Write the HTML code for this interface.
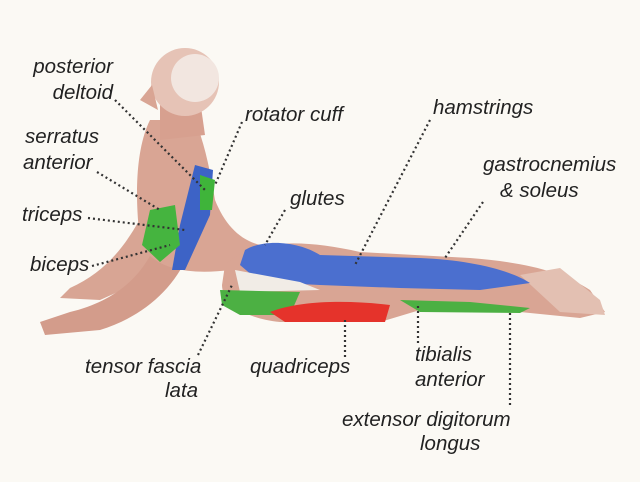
<!DOCTYPE html>
<html><head><style>
html,body{margin:0;padding:0;background:#fbf9f4;}
svg{display:block}
text{font-family:"Liberation Sans","DejaVu Sans",sans-serif;font-style:italic;font-size:20.5px;fill:#222;}
</style></head><body>
<svg width="640" height="482" viewBox="0 0 640 482">
<rect width="640" height="482" fill="#fbf9f4"/>
<!-- arms -->
<path d="M150,200 C130,240 110,270 70,288 L60,298 L100,300 L140,282 C165,262 178,235 180,215 Z" fill="#d8a594"/>
<path d="M160,230 C150,270 120,300 70,312 L40,322 L45,335 L100,330 C140,318 175,290 190,250 Z" fill="#d39c8b"/>
<!-- torso -->
<path d="M150,120 C135,150 135,200 140,240 C150,270 190,275 230,270 L260,245 C240,240 225,225 215,200 C210,170 205,145 195,120 Z" fill="#d9a594"/>
<!-- neck & head -->
<path d="M160,100 L200,100 L205,135 L160,140 Z" fill="#d7a08f"/>
<circle cx="185" cy="82" r="34" fill="#e6c3b6"/>
<circle cx="195" cy="78" r="24" fill="#f2e6e0"/>
<path d="M152,85 L140,100 L158,110 Z" fill="#d9a594"/>
<!-- legs -->
<path d="M225,265 C250,240 300,238 360,252 L470,258 C520,262 560,270 590,290 L605,312 L580,318 L520,312 L420,310 L380,322 L280,322 C240,318 222,300 222,285 Z" fill="#d9a594"/>
<path d="M520,275 L560,268 L600,300 L605,315 L560,312 Z" fill="#e3c0b2"/>
<!-- blue muscles -->
<path d="M195,165 L213,170 L210,215 L185,270 L172,270 L180,225 Z" fill="#3d63c6"/>
<path d="M245,250 C265,238 300,242 320,255 L420,258 C470,260 510,270 530,283 L480,290 L400,288 L320,285 L260,282 L240,265 Z" fill="#4b6fcf"/>
<!-- white band -->
<path d="M235,270 L300,282 L320,290 L240,292 Z" fill="#f1ece6"/>
<!-- green -->
<path d="M200,175 L215,180 L212,210 L200,210 Z" fill="#3fb43a"/>
<path d="M150,210 L175,205 L180,245 L160,262 L142,245 Z" fill="#45b43f"/>
<path d="M220,290 L300,292 L290,315 L240,315 L222,305 Z" fill="#4cb043"/>
<path d="M400,300 L470,302 L530,308 L520,313 L420,312 Z" fill="#4cb043"/>
<!-- red -->
<path d="M270,312 C300,300 350,300 390,305 L385,322 L285,322 Z" fill="#e5332b"/>
<!-- dotted leader lines -->
<g stroke="#333" stroke-width="2.2" stroke-dasharray="2,3" fill="none">
<line x1="115" y1="100" x2="205" y2="190"/>
<line x1="242" y1="122" x2="215" y2="185"/>
<line x1="97" y1="172" x2="160" y2="210"/>
<line x1="88" y1="218" x2="185" y2="230"/>
<line x1="92" y1="266" x2="170" y2="245"/>
<line x1="285" y1="210" x2="265" y2="245"/>
<line x1="430" y1="120" x2="355" y2="265"/>
<line x1="483" y1="202" x2="445" y2="258"/>
<line x1="198" y1="355" x2="232" y2="285"/>
<line x1="345" y1="357" x2="345" y2="320"/>
<line x1="418" y1="343" x2="418" y2="305"/>
<line x1="510" y1="405" x2="510" y2="310"/>
</g>
<text x="113" y="73" text-anchor="end">posterior</text>
<text x="113" y="99" text-anchor="end">deltoid</text>
<text x="245" y="121">rotator cuff</text>
<text x="25" y="143">serratus</text>
<text x="23" y="169">anterior</text>
<text x="22" y="221">triceps</text>
<text x="30" y="271">biceps</text>
<text x="290" y="205">glutes</text>
<text x="433" y="114">hamstrings</text>
<text x="483" y="171">gastrocnemius</text>
<text x="500" y="197">&amp; soleus</text>
<text x="85" y="373">tensor fascia</text>
<text x="165" y="397">lata</text>
<text x="250" y="373">quadriceps</text>
<text x="415" y="361">tibialis</text>
<text x="415" y="386">anterior</text>
<text x="342" y="426">extensor digitorum</text>
<text x="420" y="450">longus</text>
</svg>
</body></html>
